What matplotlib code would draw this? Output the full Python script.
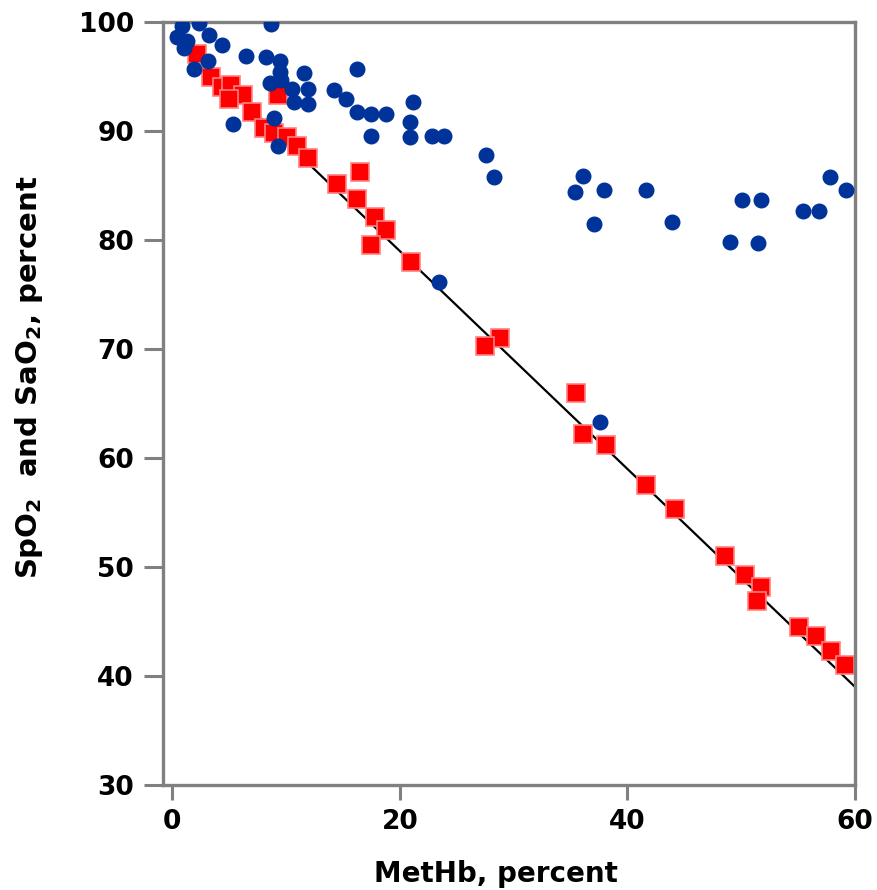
import numpy as np
import matplotlib.pyplot as plt

# SpO2 (pulse oximeter) readings, blue circles
spo2_x = [0.9, 2.35, 8.7, 0.4, 1.3, 1.0, 3.2, 4.4, 6.5, 8.2, 9.5, 9.5, 1.9, 3.1,
          16.2, 11.6, 8.6, 9.6, 10.5, 11.9, 10.7, 11.9, 14.2, 15.3, 16.2, 17.5,
          18.8, 21.2, 20.9, 20.9, 17.5, 22.8, 23.9, 5.3, 8.9, 9.3, 27.6, 28.3,
          23.4, 37.6, 36.1, 35.4, 37.9, 41.6, 37.1, 43.9, 50.1, 51.7, 49.0,
          51.5, 55.4, 56.8, 57.8, 59.2]
spo2_y = [99.7, 99.9, 99.8, 98.65, 98.3, 97.6, 98.8, 97.9, 96.9, 96.8, 96.4,
          95.4, 95.75, 96.4, 95.75, 95.3, 94.4, 94.7, 93.9, 93.9, 92.7, 92.5,
          93.8, 93.0, 91.8, 91.6, 91.6, 92.7, 90.85, 89.5, 89.6, 89.6, 89.6,
          90.7, 91.2, 88.6, 87.8, 85.8, 76.2, 63.3, 85.9, 84.4, 84.6, 84.65,
          81.5, 81.7, 83.7, 83.7, 79.8, 79.75, 82.7, 82.7, 85.8, 84.65]

# SaO2 (co-oximeter) readings, red squares
sao2_x = [2.2, 3.4, 4.4, 5.2, 6.2, 5.0, 7.0, 9.3, 8.1, 8.9, 10.1, 11.0, 11.9,
          16.5, 14.5, 16.2, 17.8, 18.8, 17.5, 21.0, 28.8, 27.5, 35.5, 36.1,
          38.1, 41.6, 44.2, 48.6, 50.3, 51.7, 51.4, 55.1, 56.6, 57.9, 59.1]
sao2_y = [97.1, 95.0, 94.1, 94.2, 93.3, 93.0, 91.8, 93.3, 90.25, 89.8, 89.5,
          88.6, 87.5, 86.3, 85.2, 83.8, 82.1, 80.9, 79.6, 78.0, 71.0, 70.3,
          66.0, 62.2, 61.2, 57.5, 55.3, 51.0, 49.3, 48.2, 46.9, 44.5, 43.7,
          42.3, 41.0]

# fitted line
fit_x = [0, 60]
fit_y = [99.0, 39.0]

xticks = [0, 20, 40, 60]
yticks = [30, 40, 50, 60, 70, 80, 90, 100]

fig = plt.figure(figsize=(8.77, 8.9), dpi=100)
ax = fig.add_axes([0.186, 0.118, 0.789, 0.857])

ax.plot(fit_x, fit_y, color='black', lw=1.6, zorder=1)
ax.plot(sao2_x, sao2_y, 's', color='#ff0000', mec='#ff8080', mew=1.2,
        ms=12.5, zorder=2)
ax.plot(spo2_x, spo2_y, 'o', color='#003399', mec='#003399', ms=10.5,
        zorder=3)

ax.set_xlim(-0.8, 60)
ax.set_ylim(30, 100)
ax.set_xticks(xticks)
ax.set_yticks(yticks)

for s in ax.spines.values():
    s.set_color('#808080')
    s.set_linewidth(2.4)
ax.tick_params(axis='y', length=14, width=2.2, color='#808080', pad=7,
               labelsize=19)
ax.tick_params(axis='x', length=11, width=2.2, color='#808080', pad=6,
               labelsize=19)
for lab in ax.get_xticklabels() + ax.get_yticklabels():
    lab.set_fontweight('bold')

ax.set_xlabel('MetHb, percent', fontsize=20, fontweight='bold')
ax.xaxis.set_label_coords(0.481, -0.098)
ax.set_ylabel('SpO$_\\mathbf{2}$  and SaO$_\\mathbf{2}$, percent', fontsize=21,
              fontweight='bold')
ax.yaxis.set_label_coords(-0.17, 0.535)

fig.savefig('out.png', dpi=100)
